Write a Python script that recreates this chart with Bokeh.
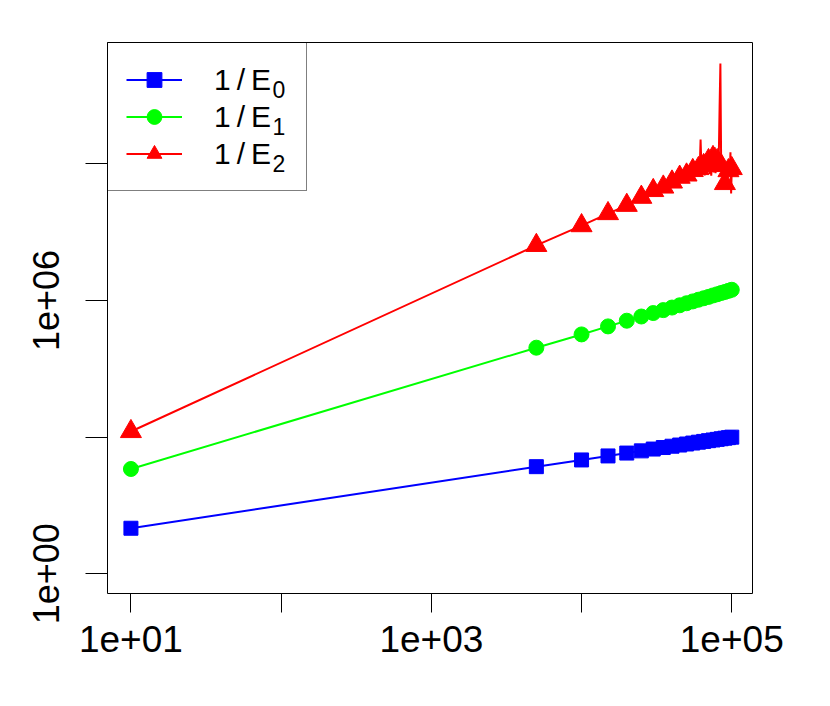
from bokeh.plotting import figure
from bokeh.models import Range1d, FixedTicker, CustomJSTickFormatter, Legend, LegendItem, Label
from bokeh.embed import file_html
from bokeh.resources import INLINE

# ---- data ----
x_pts = [10, 5000, 10000, 15000, 20000, 25000, 30000, 35000, 40000, 45000, 50000,
         55000, 60000, 65000, 70000, 75000, 80000, 85000, 90000, 95000, 100000]

inv_e0 = [10, 225, 316, 387, 447, 500, 548, 592, 632, 671, 707,
          742, 775, 806, 837, 866, 894, 922, 949, 975, 1000]

inv_e1 = [200, 9.2e4, 1.8e5, 2.7e5, 3.6e5, 4.45e5, 5.3e5, 6.15e5, 7.0e5, 7.85e5, 8.7e5,
          9.55e5, 1.04e6, 1.12e6, 1.2e6, 1.29e6, 1.37e6, 1.46e6, 1.54e6, 1.63e6, 1.72e6]

inv_e2 = [1330, 1.62e7, 4.4e7, 8.1e7, 1.23e8, 1.85e8, 2.6e8, 3.1e8, 4.0e8, 5.1e8, 5.7e8,
          7.15e8, 7.9e8, 9.2e8, 1.18e9, 1.38e9, 1.18e9, 9.2e8, 3.7e8, 7.1e8, 7.9e8]

# extra (unmarked) points of the 1/E2 curve, where it becomes noisy
inv_e2_extra_x = [41000, 42000, 43000, 44000, 46000, 47000, 48000, 49000,
                  51000, 52000, 53000, 54000, 56000, 57000, 58000, 59000,
                  61000, 62000, 63000, 64000, 66000, 67000, 68000, 69000,
                  71000, 72000, 73000, 74000, 76000, 77000, 78000, 79000,
                  81000, 82000, 83000, 84000, 86000, 87000, 88000, 89000,
                  91000, 92000, 93000, 94000, 96000, 97000, 98000, 99000]
inv_e2_extra_y = [4.1e8, 3.6e8, 4.4e8, 4.0e8, 4.3e8, 5.4e8, 4.6e8, 5.8e8,
                  4.9e8, 6.2e8, 5.0e8, 6.6e8, 5.2e8, 7.4e8, 5.6e8, 8.0e8,
                  5.8e8, 3.4e9, 6.0e8, 8.8e8, 5.6e8, 1.0e9, 6.2e8, 1.1e9,
                  6.0e8, 1.25e9, 5.5e8, 1.3e9, 6.5e8, 2.3e9, 6.2e8, 1.5e9,
                  6.8e8, 1.6e9, 1.9e10, 1.6e11, 7.0e8, 1.3e9, 6.4e8, 1.1e9,
                  8.0e8, 6.0e8, 9.5e8, 7.0e8, 1.0e9, 6.8e8, 1.8e9, 2.24e8]

x_ticks = [10, 100, 1000, 10000, 100000]
x_tick_labels = ["1e+01", "", "1e+03", "", "1e+05"]
y_ticks = [1, 1e3, 1e6, 1e9]
y_tick_labels = ["1e+00", "", "1e+06", ""]

series_labels = ["1\u2009/\u2009E", "1\u2009/\u2009E", "1\u2009/\u2009E"]
series_subscripts = ["0", "1", "2"]
series_colors = ["#0000FF", "#00FF00", "#FF0000"]

FONT = "Liberation Sans"

p = figure(x_axis_type="log", y_axis_type="log",
           x_range=Range1d(10 ** 0.844, 10 ** 5.138),
           y_range=Range1d(10 ** -0.4325, 10 ** 11.664),
           frame_width=645, frame_height=551,
           min_border_left=107, min_border_right=70,
           min_border_top=42, min_border_bottom=105,
           output_backend="svg", toolbar_location=None,
           background_fill_color="white", border_fill_color="white")

p.outline_line_color = "black"
p.outline_line_width = 1
p.grid.visible = False

def fmt(vals, labels):
    return CustomJSTickFormatter(args=dict(vals=vals, labels=labels), code="""
        for (let i = 0; i < vals.length; i++) {
            if (Math.abs(Math.log10(tick) - Math.log10(vals[i])) < 1e-6) return labels[i];
        }
        return "";
    """)

for ax, ticks, labels in ((p.xaxis[0], x_ticks, x_tick_labels), (p.yaxis[0], y_ticks, y_tick_labels)):
    ax.ticker = FixedTicker(ticks=ticks, minor_ticks=[])
    ax.formatter = fmt(ticks, labels)
    ax.axis_line_color = None
    ax.major_tick_line_color = "black"
    ax.major_tick_line_width = 1
    ax.major_tick_in = 0
    ax.minor_tick_line_color = None
    ax.major_label_text_font = FONT
    ax.major_label_text_color = "black"

p.xaxis[0].major_tick_out = 19
p.yaxis[0].major_tick_out = 22
p.xaxis[0].major_label_text_font_size = "37px"
p.yaxis[0].major_label_text_font_size = "36px"
p.xaxis[0].major_label_standoff = 13
p.yaxis[0].major_label_standoff = 26
p.yaxis[0].major_label_orientation = "vertical"

# series
l0 = p.line(x_pts, inv_e0, line_color=series_colors[0], line_width=2)
m0 = p.scatter(x_pts, inv_e0, marker="square", size=14, fill_color=series_colors[0], line_color=series_colors[0])

l1 = p.line(x_pts, inv_e1, line_color=series_colors[1], line_width=2)
m1 = p.scatter(x_pts, inv_e1, marker="circle", size=15, fill_color=series_colors[1], line_color=series_colors[1])

red_line = sorted(list(zip(x_pts, inv_e2)) + list(zip(inv_e2_extra_x, inv_e2_extra_y)))
l2 = p.line([a for a, b in red_line], [b for a, b in red_line], line_color=series_colors[2], line_width=2)
m2 = p.scatter(x_pts, inv_e2, marker="triangle", size=21, fill_color=series_colors[2], line_color=series_colors[2])

legend = Legend(items=[LegendItem(label=series_labels[0], renderers=[l0, m0]),
                       LegendItem(label=series_labels[1], renderers=[l1, m1]),
                       LegendItem(label=series_labels[2], renderers=[l2, m2])],
                location="top_left", margin=0, padding=18, spacing=0,
                glyph_width=56, glyph_height=37, label_height=37, label_width=74,
                label_standoff=32,
                label_text_font=FONT, label_text_font_size="30px",
                label_text_color="black",
                border_line_color="black", border_line_width=1,
                background_fill_alpha=0.0)
p.add_layout(legend)

# subscripts of the legend labels (frame-relative screen position)
for i, sub in enumerate(series_subscripts):
    p.add_layout(Label(x=165, y=504 - 37 * i, x_units="screen", y_units="screen",
                       text=sub, text_font=FONT, text_font_size="23px",
                       text_baseline="alphabetic", text_align="left", text_color="black"))

open("out.html", "w").write(file_html(p, INLINE))
